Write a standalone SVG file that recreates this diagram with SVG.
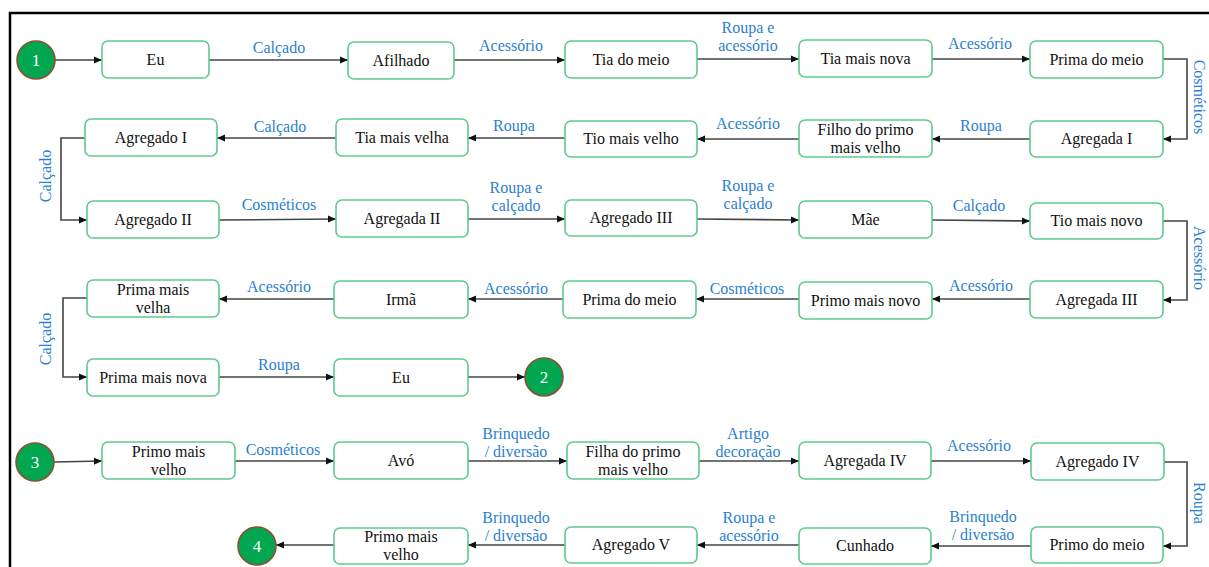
<svg xmlns="http://www.w3.org/2000/svg" width="1209" height="567" viewBox="0 0 1209 567">
<defs>
<marker id="arr" markerWidth="10" markerHeight="10" refX="9" refY="5" orient="auto" markerUnits="userSpaceOnUse">
<path d="M1,1.5 L9,5 L1,8.5 Z" fill="#111"/>
</marker>
<style>
text{font-family:'Liberation Serif','Times New Roman',Times,'DejaVu Serif',serif}
.n{fill:#fff;stroke:#5ecb8c;stroke-width:1.6}
.t{font-size:16px;fill:#111;text-anchor:middle}
.l{font-size:16px;fill:#2b7fd0;text-anchor:middle}
.c{fill:#00a650;stroke:#8a5232;stroke-width:1.6}
.ct{font-size:17px;fill:#fff;text-anchor:middle}
.e{fill:none;stroke:#444;stroke-width:1.6;marker-end:url(#arr)}
</style>
</defs>
<rect width="1209" height="567" fill="#fff"/>
<rect x="10" y="13" width="1260" height="620" fill="none" stroke="#000" stroke-width="2.5"/>

<g id="connectors">
<path class="e" d="M55,60 L102,60"/>
<path class="e" d="M209,60 L348,60"/>
<path class="e" d="M454,60 L565,60"/>
<path class="e" d="M697,59 L799,59"/>
<path class="e" d="M932,59 L1030,59"/>
<path class="e" d="M1163,59 L1187,59 L1187,139 L1163,139"/>
<path class="e" d="M1030,139 L932,139"/>
<path class="e" d="M799,139 L697,139"/>
<path class="e" d="M565,138 L468,138"/>
<path class="e" d="M336,138 L217,138"/>
<path class="e" d="M85,138 L61,138 L61,220 L87,220"/>
<path class="e" d="M219,220 L336,219"/>
<path class="e" d="M468,219 L565,219"/>
<path class="e" d="M697,219 L799,220"/>
<path class="e" d="M932,220 L1030,221"/>
<path class="e" d="M1163,221 L1187,221 L1187,300 L1163,300"/>
<path class="e" d="M1030,299 L932,299"/>
<path class="e" d="M799,299 L696,299"/>
<path class="e" d="M563,299 L468,299"/>
<path class="e" d="M334,299 L219,299"/>
<path class="e" d="M87,298 L63,298 L63,377 L87,377"/>
<path class="e" d="M219,377 L334,377"/>
<path class="e" d="M468,377 L525,377"/>
<path class="e" d="M54,462 L102,461"/>
<path class="e" d="M235,461 L334,461"/>
<path class="e" d="M468,461 L567,461"/>
<path class="e" d="M699,461 L799,461"/>
<path class="e" d="M931,461 L1031,461"/>
<path class="e" d="M1164,462 L1187,462 L1187,546 L1163,546"/>
<path class="e" d="M1031,546 L931,546"/>
<path class="e" d="M799,545 L697,545"/>
<path class="e" d="M565,545 L468,545"/>
<path class="e" d="M334,545 L276,545"/>
<g id="edge-labels">
<text class="l" x="279" y="53">Calçado</text>
<text class="l" x="511" y="51">Acessório</text>
<text class="l" x="748" y="33">Roupa e</text>
<text class="l" x="748" y="51">acessório</text>
<text class="l" x="980" y="49">Acessório</text>
<text class="l" transform="translate(1194,97) rotate(90)">Cosméticos</text>
<text class="l" x="981" y="131">Roupa</text>
<text class="l" x="748" y="129">Acessório</text>
<text class="l" x="514" y="131">Roupa</text>
<text class="l" x="280" y="132">Calçado</text>
<text class="l" transform="translate(51,176) rotate(-90)">Calçado</text>
<text class="l" x="279" y="210">Cosméticos</text>
<text class="l" x="516" y="193">Roupa e</text>
<text class="l" x="516" y="211">calçado</text>
<text class="l" x="748" y="191">Roupa e</text>
<text class="l" x="748" y="209">calçado</text>
<text class="l" x="979" y="211">Calçado</text>
<text class="l" transform="translate(1194,258) rotate(90)">Acessório</text>
<text class="l" x="981" y="291">Acessório</text>
<text class="l" x="747" y="294">Cosméticos</text>
<text class="l" x="516" y="294">Acessório</text>
<text class="l" x="279" y="292">Acessório</text>
<text class="l" transform="translate(51,339) rotate(-90)">Calçado</text>
<text class="l" x="279" y="370">Roupa</text>
<text class="l" x="283" y="455">Cosméticos</text>
<text class="l" x="516" y="439">Brinquedo</text>
<text class="l" x="516" y="457">/ diversão</text>
<text class="l" x="748" y="439">Artigo</text>
<text class="l" x="748" y="457">decoração</text>
<text class="l" x="979" y="451">Acessório</text>
<text class="l" transform="translate(1194,503) rotate(90)">Roupa</text>
<text class="l" x="983" y="522">Brinquedo</text>
<text class="l" x="983" y="540">/ diversão</text>
<text class="l" x="749" y="523">Roupa e</text>
<text class="l" x="749" y="541">acessório</text>
<text class="l" x="516" y="523">Brinquedo</text>
<text class="l" x="516" y="541">/ diversão</text>
</g>
</g>

<g id="s1"><circle class="c" cx="36" cy="60" r="19"/><text class="ct" x="36" y="66">1</text></g>
<g id="eu1"><rect class="n" x="102" y="41" width="107" height="37" rx="6"/><text class="t" x="155.5" y="65">Eu</text></g>
<g id="afilhado"><rect class="n" x="348" y="42" width="106" height="37" rx="6"/><text class="t" x="401" y="66">Afilhado</text></g>
<g id="tia-do-meio"><rect class="n" x="565" y="41" width="132" height="37" rx="6"/><text class="t" x="631" y="65">Tia do meio</text></g>
<g id="tia-mais-nova"><rect class="n" x="799" y="40" width="133" height="37" rx="6"/><text class="t" x="865.5" y="64">Tia mais nova</text></g>
<g id="prima-do-meio1"><rect class="n" x="1030" y="41" width="133" height="37" rx="6"/><text class="t" x="1096.5" y="65">Prima do meio</text></g>

<g id="agregado-1"><rect class="n" x="85" y="119" width="132" height="37" rx="6"/><text class="t" x="151" y="143">Agregado I</text></g>
<g id="tia-mais-velha"><rect class="n" x="336" y="119" width="132" height="37" rx="6"/><text class="t" x="402" y="143">Tia mais velha</text></g>
<g id="tio-mais-velho"><rect class="n" x="565" y="121" width="132" height="36" rx="6"/><text class="t" x="631" y="144">Tio mais velho</text></g>
<g id="filho-primo"><rect class="n" x="799" y="120" width="133" height="37" rx="6"/><text class="t" x="865.5" y="135">Filho do primo</text><text class="t" x="865.5" y="153">mais velho</text></g>
<g id="agregada-1"><rect class="n" x="1030" y="121" width="133" height="36" rx="6"/><text class="t" x="1096.5" y="144">Agregada I</text></g>

<g id="agregado-2"><rect class="n" x="87" y="201" width="132" height="37" rx="6"/><text class="t" x="153" y="225">Agregado II</text></g>
<g id="agregada-2"><rect class="n" x="336" y="200" width="132" height="37" rx="6"/><text class="t" x="402" y="224">Agregada II</text></g>
<g id="agregado-3"><rect class="n" x="565" y="200" width="132" height="36" rx="6"/><text class="t" x="631" y="223">Agregado III</text></g>
<g id="mae"><rect class="n" x="799" y="201" width="133" height="37" rx="6"/><text class="t" x="865.5" y="225">Mãe</text></g>
<g id="tio-mais-novo"><rect class="n" x="1030" y="203" width="133" height="36" rx="6"/><text class="t" x="1096.5" y="226">Tio mais novo</text></g>

<g id="prima-mais-velha"><rect class="n" x="87" y="280" width="132" height="37" rx="6"/><text class="t" x="153" y="295">Prima mais</text><text class="t" x="153" y="313">velha</text></g>
<g id="irma"><rect class="n" x="334" y="281" width="134" height="37" rx="6"/><text class="t" x="401" y="305">Irmã</text></g>
<g id="prima-do-meio2"><rect class="n" x="563" y="281" width="133" height="37" rx="6"/><text class="t" x="629.5" y="305">Prima do meio</text></g>
<g id="primo-mais-novo"><rect class="n" x="799" y="282" width="133" height="37" rx="6"/><text class="t" x="865.5" y="306">Primo mais novo</text></g>
<g id="agregada-3"><rect class="n" x="1030" y="281" width="133" height="37" rx="6"/><text class="t" x="1096.5" y="305">Agregada III</text></g>

<g id="prima-mais-nova"><rect class="n" x="87" y="359" width="132" height="37" rx="6"/><text class="t" x="153" y="383">Prima mais nova</text></g>
<g id="eu2"><rect class="n" x="334" y="359" width="134" height="37" rx="6"/><text class="t" x="401" y="383">Eu</text></g>
<g id="s2"><circle class="c" cx="544" cy="377" r="19"/><text class="ct" x="544" y="383">2</text></g>

<g id="s3"><circle class="c" cx="35" cy="462" r="19"/><text class="ct" x="35" y="468">3</text></g>
<g id="primo-mais-velho1"><rect class="n" x="102" y="442" width="133" height="37" rx="6"/><text class="t" x="168.5" y="457">Primo mais</text><text class="t" x="168.5" y="475">velho</text></g>
<g id="avo"><rect class="n" x="334" y="442" width="134" height="37" rx="6"/><text class="t" x="401" y="466">Avó</text></g>
<g id="filha-primo"><rect class="n" x="567" y="442" width="132" height="37" rx="6"/><text class="t" x="633" y="457">Filha do primo</text><text class="t" x="633" y="475">mais velho</text></g>
<g id="agregada-4"><rect class="n" x="799" y="442" width="132" height="37" rx="6"/><text class="t" x="865" y="466">Agregada IV</text></g>
<g id="agregado-4"><rect class="n" x="1031" y="443" width="133" height="37" rx="6"/><text class="t" x="1097.5" y="467">Agregado IV</text></g>

<g id="s4"><circle class="c" cx="257" cy="546" r="19"/><text class="ct" x="257" y="552">4</text></g>
<g id="primo-mais-velho2"><rect class="n" x="334" y="528" width="134" height="36" rx="6"/><text class="t" x="401" y="542">Primo mais</text><text class="t" x="401" y="560">velho</text></g>
<g id="agregado-5"><rect class="n" x="565" y="527" width="132" height="36" rx="6"/><text class="t" x="631" y="550">Agregado V</text></g>
<g id="cunhado"><rect class="n" x="799" y="528" width="132" height="36" rx="6"/><text class="t" x="865" y="551">Cunhado</text></g>
<g id="primo-do-meio"><rect class="n" x="1031" y="527" width="132" height="36" rx="6"/><text class="t" x="1097" y="550">Primo do meio</text></g>
</svg>
